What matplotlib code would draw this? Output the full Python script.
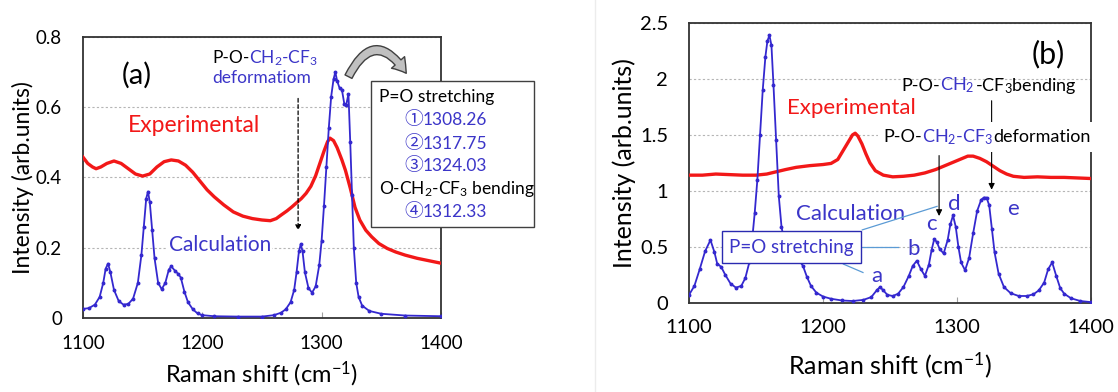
import matplotlib
matplotlib.use('Agg')
import matplotlib.pyplot as plt
from matplotlib.offsetbox import TextArea, HPacker, AnnotationBbox
from matplotlib.patches import Rectangle, FancyArrowPatch
from matplotlib.lines import Line2D

plt.rcParams['font.family'] = ['Lato', 'Noto Sans CJK JP', 'DejaVu Sans']
plt.rcParams['mathtext.fontset'] = 'custom'
plt.rcParams['mathtext.rm'] = 'Lato'
plt.rcParams['mathtext.it'] = 'Lato:italic'
plt.rcParams['mathtext.bf'] = 'Lato:bold'

# ---- panel (a) data ----
a_calc_x = [1100, 1105, 1110, 1114, 1117, 1119, 1121, 1123, 1126, 1130, 1134, 1138, 1142, 1146,
            1149, 1151, 1153, 1154.5, 1156, 1158, 1160, 1163, 1166, 1169, 1172, 1174, 1177, 1180,
            1182, 1185, 1188, 1192, 1196, 1200, 1210, 1230, 1250, 1260, 1266, 1270, 1274, 1277,
            1279, 1281, 1282.5, 1284, 1286, 1289, 1292, 1295, 1298, 1300, 1302, 1304, 1306, 1308,
            1310, 1311.5, 1313, 1315, 1317, 1319, 1320.5, 1322.5, 1324, 1325.5, 1327, 1329, 1331,
            1334, 1340, 1350, 1370, 1400]
a_calc_y = [0.026, 0.028, 0.038, 0.06, 0.10, 0.14, 0.155, 0.13, 0.08, 0.048, 0.038, 0.04, 0.055, 0.10,
            0.18, 0.26, 0.34, 0.36, 0.33, 0.25, 0.17, 0.10, 0.082, 0.10, 0.138, 0.147, 0.135, 0.125,
            0.115, 0.075, 0.045, 0.025, 0.013, 0.008, 0.005, 0.004, 0.004, 0.008, 0.015, 0.025, 0.045, 0.08,
            0.13, 0.19, 0.21, 0.19, 0.13, 0.085, 0.072, 0.09, 0.15, 0.22, 0.32, 0.43, 0.54, 0.63,
            0.68, 0.70, 0.675, 0.655, 0.65, 0.61, 0.605, 0.638, 0.50, 0.35, 0.20, 0.10, 0.06,
            0.035, 0.02, 0.012, 0.007, 0.005]

a_exp_x = [1100, 1104, 1108, 1111, 1115, 1120, 1126, 1132, 1138, 1144, 1150, 1156, 1162, 1168, 1174,
           1180, 1186, 1192, 1198, 1204, 1210, 1218, 1226, 1234, 1242, 1250, 1257, 1262, 1266, 1271,
           1275, 1279, 1283, 1287, 1291, 1295, 1299, 1302, 1305, 1307, 1310, 1313, 1317, 1320, 1324,
           1328, 1332, 1337, 1342, 1348, 1355, 1362, 1370, 1380, 1390, 1400]
a_exp_y = [0.458, 0.44, 0.43, 0.425, 0.43, 0.44, 0.447, 0.44, 0.425, 0.41, 0.404, 0.41, 0.43, 0.445, 0.45,
           0.447, 0.435, 0.415, 0.39, 0.365, 0.345, 0.322, 0.302, 0.29, 0.283, 0.279, 0.277, 0.283, 0.293, 0.305,
           0.316, 0.328, 0.34, 0.355, 0.375, 0.405, 0.445, 0.475, 0.502, 0.512, 0.505, 0.485, 0.45, 0.42, 0.37,
           0.315, 0.279, 0.25, 0.231, 0.212, 0.198, 0.188, 0.179, 0.17, 0.163, 0.156]

a_yticks = [0, 0.2, 0.4, 0.6, 0.8]
a_ylabels = ['0', '0.2', '0.4', '0.6', '0.8']

# ---- panel (b) data ----
b_calc_x = [1100, 1104, 1108, 1112, 1116, 1119, 1121, 1124, 1127, 1131, 1135, 1139, 1142, 1145, 1147,
            1149, 1151, 1153, 1155, 1157, 1158.5, 1160, 1161.5, 1163, 1165, 1167, 1169, 1171, 1174, 1178,
            1182, 1185, 1188, 1191, 1195, 1200, 1206, 1214, 1222, 1230, 1236, 1240, 1242.5, 1245, 1248,
            1252, 1256, 1260, 1264, 1267, 1270, 1273, 1276, 1279, 1281, 1283, 1285, 1287, 1290, 1293,
            1295, 1297, 1299, 1301, 1303, 1306, 1309, 1312, 1315, 1318, 1320, 1322, 1324, 1326, 1328,
            1331, 1335, 1340, 1346, 1352, 1357, 1361, 1365, 1368, 1371, 1374, 1377, 1380, 1385, 1392, 1400]
b_calc_y = [0.07, 0.15, 0.30, 0.46, 0.56, 0.45, 0.35, 0.32, 0.25, 0.17, 0.135, 0.15, 0.22, 0.36, 0.55,
            0.80, 1.10, 1.50, 1.90, 2.20, 2.34, 2.39, 2.30, 1.95, 1.45, 0.95, 0.68, 0.55, 0.46, 0.42,
            0.38, 0.33, 0.23, 0.15, 0.09, 0.055, 0.035, 0.02, 0.015, 0.025, 0.05, 0.11, 0.14, 0.11, 0.07,
            0.06, 0.08, 0.14, 0.24, 0.33, 0.375, 0.30, 0.24, 0.34, 0.47, 0.57, 0.54, 0.48, 0.44, 0.56,
            0.70, 0.78, 0.68, 0.50, 0.36, 0.29, 0.40, 0.62, 0.82, 0.92, 0.94, 0.94, 0.87, 0.66, 0.45,
            0.26, 0.14, 0.085, 0.06, 0.06, 0.075, 0.11, 0.18, 0.30, 0.36, 0.24, 0.13, 0.08, 0.04, 0.015, 0.005]

b_exp_x = [1100, 1110, 1120, 1130, 1140, 1150, 1158, 1165, 1172, 1180, 1190, 1200, 1206, 1211, 1215,
           1219, 1222, 1224, 1226, 1229, 1232, 1235, 1239, 1245, 1252, 1260, 1268, 1276, 1284, 1292,
           1298, 1304, 1308, 1312, 1317, 1322, 1327, 1332, 1337, 1342, 1350, 1360, 1370, 1380, 1390, 1400]
b_exp_y = [1.14, 1.14, 1.15, 1.145, 1.14, 1.14, 1.15, 1.17, 1.19, 1.21, 1.225, 1.235, 1.245, 1.28, 1.36,
           1.44, 1.50, 1.515, 1.49, 1.42, 1.33, 1.25, 1.18, 1.14, 1.125, 1.13, 1.14, 1.16, 1.19, 1.23,
           1.26, 1.29, 1.31, 1.31, 1.29, 1.26, 1.22, 1.18, 1.15, 1.13, 1.12, 1.125, 1.12, 1.12, 1.115, 1.11]

b_yticks = [0, 0.5, 1, 1.5, 2, 2.5]
b_ylabels = ['0', '0.5', '1', '1.5', '2', '2.5']

xticks = [1100, 1200, 1300, 1400]
xlabels = ['1100', '1200', '1300', '1400']

# P=O stretching modes (circled number, wavenumber), then the O-CH2-CF3 bending mode
po_marks = ['\u2460', '\u2461', '\u2462']
po_values = ['1308.26', '1317.75', '1324.03']
bend_mark = '\u2463'
bend_value = '1312.33'

BLUE = '#3428cf'
TBLUE = '#3b35c8'
RED = '#f21818'
CJK = 'Noto Sans CJK JP'


def mixed(ax, x, y, parts, size, white=False, clip=False):
    kids = []
    for p in parts:
        props = dict(color=p[1], fontsize=size)
        if len(p) > 2:
            props.update(p[2])
        kids.append(TextArea(p[0], textprops=props))
    row = HPacker(children=kids, align='baseline', pad=0, sep=0)
    ab = AnnotationBbox(row, (x, y), xycoords='data', box_alignment=(0, 0.5),
                        frameon=white, pad=0.35,
                        bboxprops=dict(facecolor='white', edgecolor='none'),
                        annotation_clip=False, zorder=6)
    ax.add_artist(ab)


def style(ax, yticks, ylabels, tsize):
    ax.set_xlim(1100, 1400)
    ax.set_xticks(xticks, xlabels)
    ax.set_yticks(yticks, ylabels)
    ax.set_ylim(yticks[0], yticks[-1])
    ax.tick_params(axis='x', direction='in', length=4, width=0.8, color='#a0a0a0',
                   labelsize=tsize, pad=12)
    ax.tick_params(axis='y', length=0, labelsize=tsize, pad=15)
    ax.grid(axis='y', color='#b5b5b5', linestyle=(0, (2, 2)), lw=0.8)
    ax.set_axisbelow(True)
    for s in ax.spines.values():
        s.set_color('#333333')
        s.set_linewidth(1.3)


fig = plt.figure(figsize=(11.18, 3.92), dpi=100)
ax1 = fig.add_axes([0.0742, 0.1888, 0.3202, 0.7168])
ax2 = fig.add_axes([0.6163, 0.2278, 0.3596, 0.7135])

# ---------- (a) ----------
ax1.plot(a_exp_x, a_exp_y, color=RED, lw=2.4, zorder=3)
ax1.plot(a_calc_x, a_calc_y, color=BLUE, lw=1.3, marker='o', ms=1.8, zorder=3)
style(ax1, a_yticks, a_ylabels, 13.5)
ax1.set_xlabel('Raman shift (cm$^{-1}$)', fontsize=17)
ax1.set_ylabel('Intensity (arb.units)', fontsize=16.5)
ax1.xaxis.set_label_coords(0.5, -0.15)
ax1.yaxis.set_label_coords(-0.137, 0.5)

ax1.text(1145.4, 0.69, '(a)', fontsize=21, ha='center', va='center')
ax1.text(1193.1, 0.548, 'Experimental', color=RED, fontsize=16.5, ha='center', va='center')
ax1.text(1214.6, 0.208, 'Calculation', color=TBLUE, fontsize=15, ha='center', va='center',
         bbox=dict(facecolor='white', edgecolor='none', pad=1), zorder=4)
mixed(ax1, 1208.1, 0.741, [('P-O-', 'black'), ('CH$_2$-CF$_3$', TBLUE)], 12.5)
mixed(ax1, 1208.1, 0.683, [('deformatiom', TBLUE)], 12.5)
ax1.annotate('', xy=(1280.3, 0.241), xytext=(1280.3, 0.633),
             arrowprops=dict(arrowstyle='-|>', color='black', lw=0.9, linestyle=(0, (3, 2)),
                             mutation_scale=8))

ax1.add_patch(Rectangle((1341.8, 0.258), 136.4, 0.417, facecolor='white', edgecolor='#404040',
                        lw=1, clip_on=False, zorder=4))
mixed(ax1, 1348.4, 0.628, [('P=O stretching', 'black')], 12.5)
for mk, val, yy in zip(po_marks, po_values, [0.564, 0.498, 0.433]):
    mixed(ax1, 1369.3, yy, [(mk, TBLUE, dict(family=CJK, fontsize=13.5)), (val, TBLUE)], 12.5)
mixed(ax1, 1347.8, 0.368, [('O-CH$_2$-CF$_3$ bending', 'black')], 12.5)
mixed(ax1, 1369.3, 0.302, [(bend_mark, TBLUE, dict(family=CJK, fontsize=13.5)), (bend_value, TBLUE)], 12.5)

arc = FancyArrowPatch((1321.5, 0.68), (1372.2, 0.69), connectionstyle='arc3,rad=-0.9',
                      arrowstyle='simple,head_length=0.7,head_width=0.9,tail_width=0.4',
                      mutation_scale=14, facecolor='#c0c0c0', edgecolor='#404040', lw=1,
                      clip_on=False, zorder=6)
ax1.add_patch(arc)

# ---------- (b) ----------
ax2.plot(b_exp_x, b_exp_y, color=RED, lw=2.4, zorder=3)
ax2.plot(b_calc_x, b_calc_y, color=BLUE, lw=1.3, marker='o', ms=1.8, zorder=3)
style(ax2, b_yticks, b_ylabels, 14.5)
ax2.set_xlabel('Raman shift (cm$^{-1}$)', fontsize=18)
ax2.set_ylabel('Intensity (arb.units)', fontsize=18)
ax2.xaxis.set_label_coords(0.5, -0.17)
ax2.yaxis.set_label_coords(-0.132, 0.5)

ax2.text(1368.1, 2.22, '(b)', fontsize=22, ha='center', va='center')
ax2.text(1173.1, 1.74, 'Experimental', color=RED, fontsize=16, ha='left', va='center')
ax2.text(1220.5, 0.795, 'Calculation', color=TBLUE, fontsize=16, ha='center', va='center')

ax2.annotate('', xy=(1325.8, 0.985), xytext=(1325.8, 1.83),
             arrowprops=dict(arrowstyle='-|>', color='black', lw=0.8, mutation_scale=9), zorder=5)
ax2.annotate('', xy=(1286.6, 0.75), xytext=(1286.6, 1.34),
             arrowprops=dict(arrowstyle='-|>', color='black', lw=0.8, mutation_scale=9), zorder=5)
mixed(ax2, 1258.6, 1.94, [('P-O-', 'black'), ('CH$_2$', TBLUE), ('-CF$_3$bending', 'black')], 13)
mixed(ax2, 1245.0, 1.48, [('P-O-', 'black'), ('CH$_2$-CF$_3$', TBLUE), ('deformation', 'black')], 13,
      white=True)

# callout lines from the P=O box
for (x0, y0), (x1, y1) in [((1229.3, 0.651), (1285.1, 0.861)),
                           ((1229.3, 0.495), (1255.9, 0.495)),
                           ((1215.2, 0.345), (1229.8, 0.27))]:
    ax2.plot([x0, x1], [y0, y1], color='#5b9bd5', lw=0.9, zorder=4)
ax2.text(1176.6, 0.495, 'P=O stretching', color=TBLUE, fontsize=13.5, ha='center', va='center',
         bbox=dict(boxstyle='square,pad=0.4', facecolor='white', edgecolor='#2a2ab0', lw=1),
         zorder=5)

for s, x, y in [('a', 1240.4, 0.24), ('b', 1267.8, 0.48), ('c', 1281.1, 0.70),
                ('d', 1297.6, 0.885), ('e', 1342.0, 0.84)]:
    ax2.text(x, y, s, color=TBLUE, fontsize=16, ha='center', va='center', zorder=5)

fig.add_artist(Line2D([595 / 1118, 595 / 1118], [0, 1], color='#ececec', lw=1))

fig.savefig('out.png', dpi=100)
